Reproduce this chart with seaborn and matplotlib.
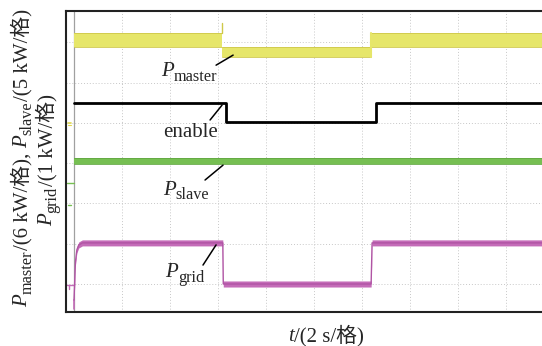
import numpy as np
import pandas as pd
import matplotlib
matplotlib.use("Agg")
import matplotlib.pyplot as plt
import seaborn as sns

# Time axis in seconds (2 s per division), amplitudes in screen divisions
t_end = 20.0

# P_master: step levels (band low / band high) and switching instants
master_t = [0.0, 6.17, 12.38, t_end]
master_lo = [5.88, 5.63, 5.88]
master_hi = [6.23, 5.88, 6.23]
master_spike = (6.17, 6.48)

# enable signal
enable_t = [0.0, 6.33, 12.58, t_end]
enable_lv = [4.49, 4.02, 4.49, 4.49]

# P_slave
slave_t = [0.0, t_end]
slave_lo = [2.98]
slave_hi = [3.13]

# P_grid (start-up ramp then step down/up)
grid_t = [0.0, 0.06, 0.12, 0.2, 0.35, 6.2, 6.22, 12.38, 12.42, t_end]
grid_c = [-0.40, 0.55, 0.85, 0.97, 1.02, 1.02, 0.0, 0.0, 1.02, 1.02]
grid_w = 0.075

YELLOW = "#e6e66a"
YELLOW_D = "#cfc84a"
GREEN = "#76bf52"
MAGENTA = "#c46cb8"

sns.set_theme(style="white")
FAMILY = ["Liberation Serif", "Noto Sans CJK SC"]
plt.rcParams["font.family"] = FAMILY

W, H = 542, 346
fig = plt.figure(figsize=(W / 100, H / 100), dpi=100)
ax = fig.add_axes([66 / W, 1 - 312 / H, (555 - 66) / W, (312 - 11) / H])

ax.set_xlim(-8 / 24.0, (555 - 74) / 24.0)
ax.set_ylim(-28 / 40.3, 273 / 40.3)

# dotted grid
for gx in np.arange(2, 20, 2):
    ax.axvline(gx, color="#c8c8c8", lw=0.7, ls=(0, (1, 2)), zorder=0)
for gy in range(0, 7):
    ax.axhline(gy, color="#c8c8c8", lw=0.7, ls=(0, (1, 2)), zorder=0)
ax.axvline(0.0, color="#a0a0a0", lw=0.9, zorder=1)


def band(tt, lo, hi, color, edge):
    for i in range(len(lo)):
        ax.fill_between([tt[i], tt[i + 1]], lo[i], hi[i], color=color, lw=0, zorder=2)
        ax.plot([tt[i], tt[i + 1]], [hi[i], hi[i]], color=edge, lw=0.6, zorder=2)
        ax.plot([tt[i], tt[i + 1]], [lo[i], lo[i]], color=edge, lw=0.6, zorder=2)


band(master_t, master_lo, master_hi, YELLOW, YELLOW_D)
ax.plot([master_spike[0]] * 2, [master_hi[0], master_spike[1]], color=YELLOW_D, lw=1.0, zorder=2)
ax.plot([master_t[2]] * 2, [master_lo[1], master_hi[2]], color=YELLOW, lw=1.5, zorder=2)

band(slave_t, slave_lo, slave_hi, GREEN, "#62a842")

gdf = pd.DataFrame({"t": grid_t, "p": grid_c})
ax.fill_between(gdf["t"], gdf["p"] - grid_w, gdf["p"] + grid_w, color=MAGENTA, lw=0, zorder=2)
sns.lineplot(data=gdf, x="t", y="p", color="#b054a4", lw=1.0, ax=ax, zorder=3)
ax.plot([0.0, 0.0], [-0.62, -0.40], color=MAGENTA, lw=1.2, zorder=2)

edf = pd.DataFrame({"t": enable_t, "e": enable_lv})
sns.lineplot(data=edf, x="t", y="e", drawstyle="steps-post", color="black", lw=2.0, ax=ax, zorder=4)

# channel reference markers on the left edge
ax.plot([-0.25, -0.12], [4.0, 4.0], color="#e0d850", lw=1.2)
ax.plot([-0.25, -0.12], [3.95, 3.95], color="#e0d850", lw=0.8)
ax.plot([-0.3, 0.0], [2.5, 2.5], color=GREEN, lw=1.0)
ax.plot([-0.25, -0.12], [1.95, 1.95], color=GREEN, lw=1.0)
ax.plot([-0.3, 0.0], [-0.02, -0.02], color=MAGENTA, lw=1.0)
ax.plot([-0.2, -0.2], [-0.02, -0.12], color=MAGENTA, lw=1.0)

ax.set_xticks([])
ax.set_yticks([])
ax.set_xlabel("")
ax.set_ylabel("")
for s in ax.spines.values():
    s.set_color("#222222")
    s.set_linewidth(1.5)

renderer = fig.canvas.get_renderer()
FS = 15.0
SUB = 0.78


def rich(px, py, segs, rotation=0.0, fs=FS):
    """Lay out text runs along a baseline; (px, py) is the baseline centre in
    figure pixels. Each run is (text, italic, subscript)."""
    runs = []
    for txt, ital, sub in segs:
        size = fs * SUB if sub else fs
        kw = dict(fontsize=size, family=FAMILY, style="italic" if ital else "normal")
        probe = fig.text(0, 0, txt, **kw)
        w = probe.get_window_extent(renderer).width
        probe.remove()
        runs.append((txt, kw, w, sub))
    total = sum(r[2] for r in runs)
    a = np.deg2rad(rotation)
    u = np.array([np.cos(a), np.sin(a)])
    n = np.array([-np.sin(a), np.cos(a)])
    pos = np.array([px, py]) - u * total / 2
    for txt, kw, w, sub in runs:
        p = pos - (n * fs * 0.30 if sub else 0)
        fig.text(p[0] / W, p[1] / H, txt, rotation=rotation, rotation_mode="anchor",
                 ha="left", va="baseline", **kw)
        pos = pos + u * w


def rich_data(t, y, segs):
    px, py = ax.transData.transform((t, y))
    rich(px, py, segs)


# trace labels with leader lines
rich_data(4.79, 5.16, [("P", True, False), ("master", False, True)])
ax.plot([5.92, 6.63], [5.43, 5.68], color="black", lw=1.1, zorder=5)
rich_data(4.875, 3.65, [("enable", False, False)])
ax.plot([5.67, 6.17], [4.07, 4.44], color="black", lw=1.1, zorder=5)
rich_data(4.67, 2.21, [("P", True, False), ("slave", False, True)])
ax.plot([5.46, 6.21], [2.58, 2.95], color="black", lw=1.1, zorder=5)
rich_data(4.625, 0.17, [("P", True, False), ("grid", False, True)])
ax.plot([5.375, 5.92], [0.47, 0.97], color="black", lw=1.1, zorder=5)

# axis titles
rich(27, H - 158, [("P", True, False), ("master", False, True), ("/(6 kW/格), ", False, False),
                   ("P", True, False), ("slave", False, True), ("/(5 kW/格)", False, False)],
     rotation=90)
rich(52, H - 160, [("P", True, False), ("grid", False, True), ("/(1 kW/格)", False, False)],
     rotation=90)
rich(326, H - 341, [("t", True, False), ("/(2 s/格)", False, False)])

fig.savefig("out.png", dpi=100)
